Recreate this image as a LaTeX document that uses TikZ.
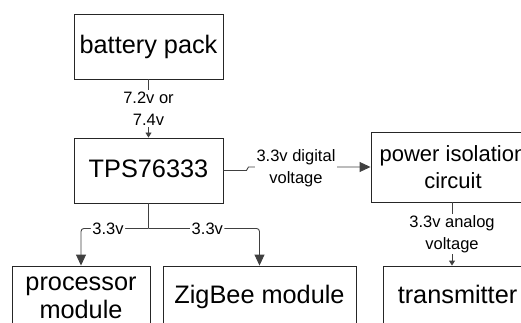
\documentclass[tikz,border=0pt]{standalone}
\usepackage{fontspec}
\setmainfont{Liberation Sans}
\usetikzlibrary{arrows.meta,calc}
\begin{document}
\begin{tikzpicture}[x=1pt,y=-1pt,
  box/.style={draw=black!85, line width=0.9pt, inner sep=0pt},
  bigfont/.style={font=\fontsize{25.3}{28}\selectfont},
  lbl/.style={fill=white, inner sep=1.5pt, align=center, font=\fontsize{16.5}{22}\selectfont},
  conn/.style={draw=black!75, line width=0.9pt},
  bigarrow/.style={-{Triangle[length=11pt,width=10pt]}},
  smallarrow/.style={-{Triangle[length=5pt,width=6pt]}}]
\useasboundingbox (0,0) rectangle (521,323);
\clip (0,0) rectangle (521,323);
\node[box,bigfont,minimum width=149pt,minimum height=65pt,text height=18.5pt,text depth=5.3pt] (bat) at (148.5,46.5) {battery pack};
\node[box,bigfont,minimum width=149pt,minimum height=65pt,text height=18.5pt,text depth=5.3pt] (tps) at (148.5,170.5) {TPS76333};
\node[box,font=\fontsize{22}{27}\selectfont,align=center,minimum width=164pt,minimum height=70pt] (iso) at (453,167) {power isolation\\circuit};
\node[box,bigfont,align=center,minimum width=138pt,minimum height=74pt,text height=38.5pt,text depth=8.5pt] (proc) at (81,303) {processor\\module};
\node[box,bigfont,minimum width=193pt,minimum height=74pt,text height=18.5pt,text depth=18.5pt] (zig) at (259.5,303) {ZigBee module};
\node[box,bigfont,minimum width=149pt,minimum height=74pt,text height=18.5pt,text depth=18.5pt] (trans) at (457.5,303) {transmitter};
% battery -> TPS
\draw[conn,smallarrow] (bat.south) -- node[lbl] (l1) {7.2v or\\7.4v} (tps.north);
% TPS -> isolation
\draw[conn,bigarrow] (tps.east) -- ++(23,0) -- ++(2,-3.5) -- (iso.west);
\node[lbl] (l2) at (296,168) {3.3v digital\\voltage};
% split to processor and ZigBee
\draw[conn] (tps.south) -- ++(0,25) coordinate (split);
\draw[conn,bigarrow,rounded corners=3pt] (split) -| node[lbl,pos=0.3] (l3) {3.3v} (proc.north);
\draw[conn,bigarrow,rounded corners=3pt] (split) -| node[lbl,pos=0.265] (l4) {3.3v} (zig.north);
% isolation -> transmitter
\draw[conn,smallarrow] ([xshift=-1pt]iso.south) -- node[lbl] (l5) {3.3v analog\\voltage} ([xshift=-1pt]iso.south |- trans.north);
\end{tikzpicture}
\end{document}
